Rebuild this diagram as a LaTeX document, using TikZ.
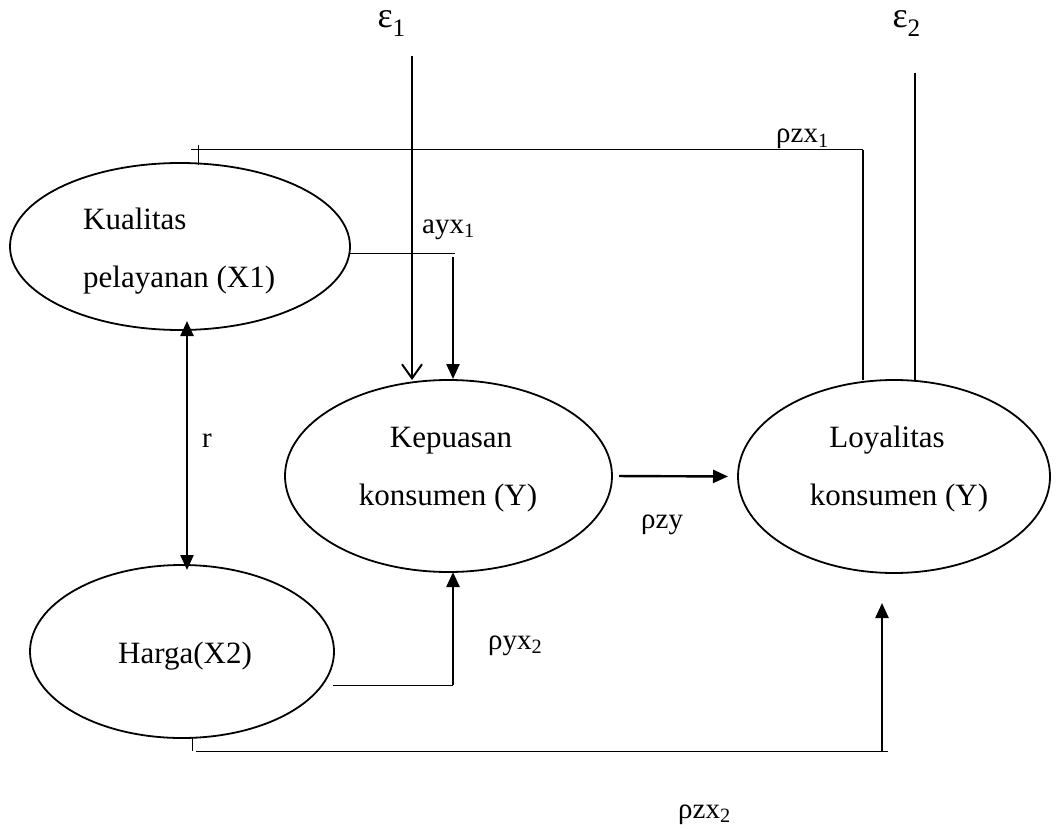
\documentclass[tikz,border=0pt]{standalone}
\usepackage{fontspec}
\setmainfont{Liberation Serif}
\usetikzlibrary{shapes.geometric,arrows.meta}
\begin{document}
\begin{tikzpicture}[x=1pt,y=-1pt,
  oval/.style={draw,ellipse,line width=1.8pt,inner sep=0pt,outer sep=0pt},
  txt/.style={inner sep=0pt,font=\fontsize{31}{31}\selectfont},
  lbl/.style={inner sep=0pt,font=\fontsize{29}{29}\selectfont},
  eps/.style={inner sep=0pt,font=\fontsize{36}{36}\selectfont},
  thin/.style={line width=1pt},
  arr/.style={line width=2.4pt,-{Triangle[length=15pt,width=13pt]}},
  darr/.style={line width=2.4pt,{Triangle[length=15pt,width=13pt]}-{Triangle[length=15pt,width=13pt]}},
  oarr/.style={line width=2pt,-{Straight Barb[length=14pt,width=20pt,line width=2pt]}},
  sline/.style={line width=2.4pt}]
\useasboundingbox (0,0) rectangle (1059,829);
% ellipses
\node[oval,minimum width=340pt,minimum height=167pt] (kual) at (180,246.5) {};
\node[oval,minimum width=327pt,minimum height=192pt] (kepu) at (448.5,476) {};
\node[oval,minimum width=312pt,minimum height=193pt] (loy) at (894,476.5) {};
\node[oval,minimum width=304pt,minimum height=173pt] (harga) at (182,651.5) {};
% texts
\node[txt,anchor=base west] (t1) at (83,229) {Kualitas};
\node[txt,anchor=base west] (t2) at (83,287) {pelayanan (X1)};
\node[txt,anchor=base] (t3) at (451,447) {Kepuasan};
\node[txt,anchor=base] (t4) at (448,505) {konsumen (Y)};
\node[txt,anchor=base] (t5) at (887,447) {Loyalitas};
\node[txt,anchor=base] (t6) at (899,505) {konsumen (Y)};
\node[txt,anchor=base west] (t7) at (118,663) {Harga(X2)};
% labels
\node[eps,anchor=base east] (e1) at (406,28) {ε\textsubscript{1}};
\node[eps,anchor=base east] (e2) at (921,28) {ε\textsubscript{2}};
\node[lbl,anchor=base west] (lzx1) at (776,143) {ρzx\textsubscript{1}};
\node[lbl,anchor=base west] (layx) at (422,233) {ayx\textsubscript{1}};
\node[lbl,anchor=base west] (lr) at (202,447) {r};
\node[lbl,anchor=base west] (lzy) at (641,528) {ρzy};
\node[lbl,anchor=base west] (lyx2) at (488,649) {ρyx\textsubscript{2}};
\node[lbl,anchor=base west] (lzx2) at (678,818) {ρzx\textsubscript{2}};
% coordinates
\coordinate (e1top) at (412,56);
\coordinate (e2top) at (915,73);
\coordinate (k1) at (198,165);
\coordinate (tk) at (198,145);
\coordinate (h1) at (191,150);
\coordinate (h2) at (863,150);
\coordinate (a1) at (349,253);
\coordinate (a2) at (455,253);
\coordinate (a3) at (453,257);
\coordinate (a4) at (453,379);
\coordinate (b1) at (333,685);
\coordinate (b2) at (453,685);
\coordinate (c1) at (192,738);
\coordinate (c2) at (192,751);
\coordinate (c3) at (196,751);
\coordinate (c4) at (888,751);
\coordinate (c5) at (882,751);
\coordinate (c6) at (882,603);
\coordinate (r1) at (187,321);
\coordinate (r2) at (187,570);
% connectors
\draw[oarr] (e1top) -- (e1top |- kepu.north);
\draw[sline] (e2top) -- (e2top |- loy.north);
\draw[thin] (tk) -- (k1);
\draw[thin] (h1) -- (h2);
\draw[line width=1.8pt] (h2) -- (h2 |- loy.north);
\draw[thin] (a1) -- (a2);
\draw[arr] (a3) -- (a4);
\draw[darr] (r1) -- (r2);
\draw[arr,shorten <=7pt,shorten >=10pt] (kepu.east) -- (loy.west);
\draw[thin] (b1) -- (b2);
\draw[arr] (b2) -- (kepu.south -| b2);
\draw[thin] (c1) -- (c2);
\draw[thin] (c3) -- (c4);
\draw[arr] (c5) -- (c6);
\end{tikzpicture}
\end{document}
